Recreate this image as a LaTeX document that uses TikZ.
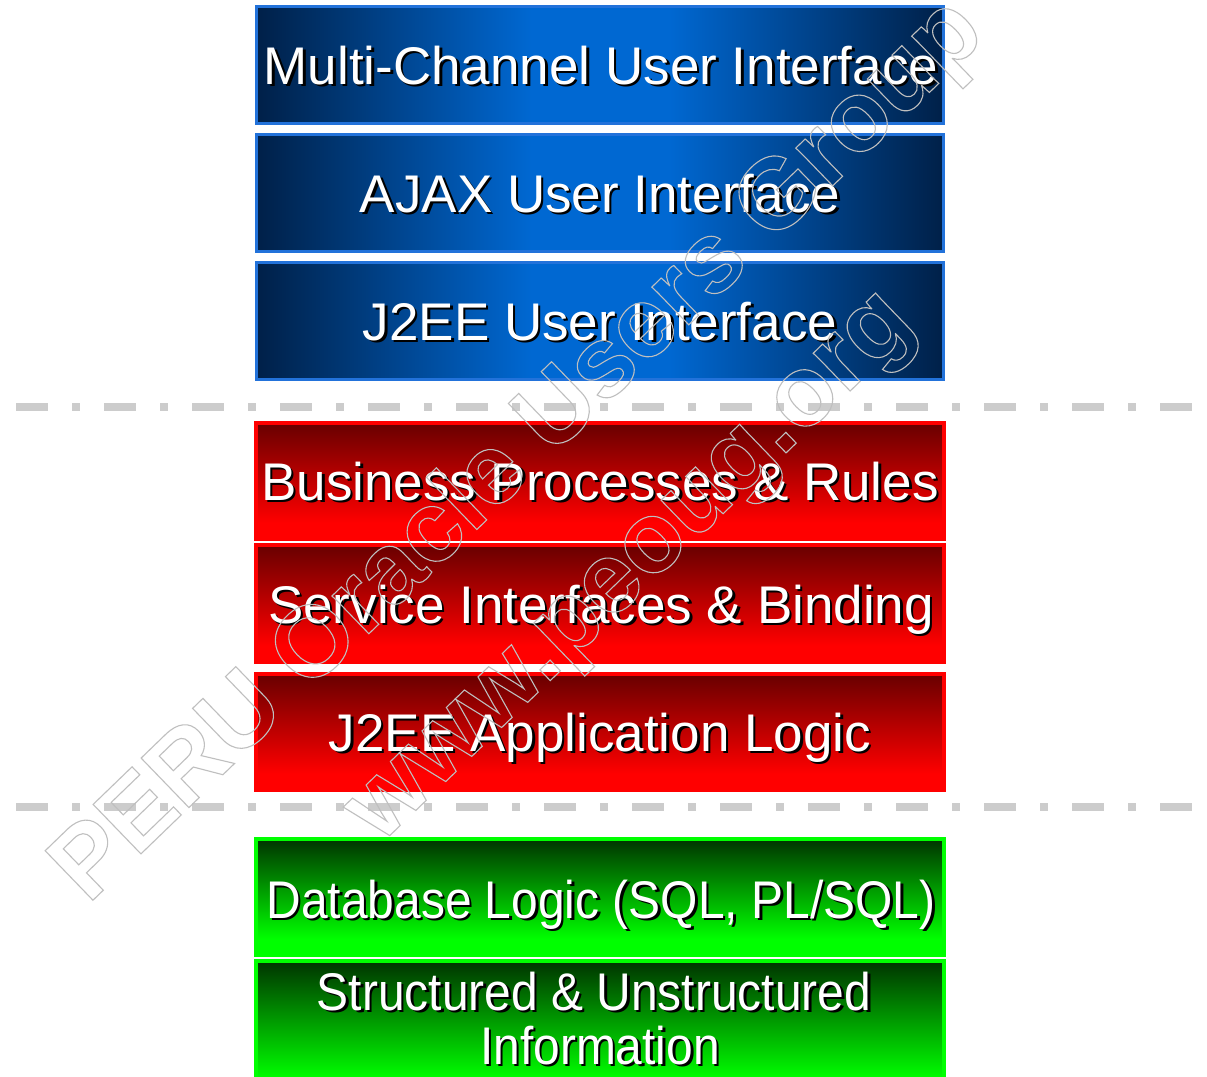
\documentclass[tikz,border=0pt]{standalone}
\usepackage{fontspec}
\setmainfont{Liberation Sans}
\usepackage{graphicx}
\usetikzlibrary{calc}
\definecolor{bborder}{RGB}{34,114,218}
\definecolor{bdark}{RGB}{0,32,72}
\definecolor{bbright}{RGB}{0,104,210}
\definecolor{rborder}{RGB}{255,0,0}
\definecolor{rtop}{RGB}{104,0,0}
\definecolor{rbot}{RGB}{255,0,0}
\definecolor{gborder}{RGB}{0,255,0}
\definecolor{gtop}{RGB}{0,52,0}
\definecolor{gbot}{RGB}{0,255,0}
\definecolor{sepgray}{RGB}{204,204,204}
\pgfdeclarehorizontalshading{bluesh}{100bp}{color(0bp)=(bdark); color(25bp)=(bdark); color(45bp)=(bbright); color(55bp)=(bbright); color(75bp)=(bdark); color(100bp)=(bdark)}
\pgfdeclareverticalshading{redsh}{100bp}{color(0bp)=(rbot); color(25bp)=(rbot); color(32bp)=(rbot); color(75bp)=(rtop); color(100bp)=(rtop)}
\pgfdeclareverticalshading{greensh}{100bp}{color(0bp)=(gbot); color(25bp)=(gbot); color(32bp)=(gbot); color(75bp)=(gtop); color(100bp)=(gtop)}
\tikzset{
  layerbox/.style={rectangle, inner sep=0pt, outer sep=0pt},
  bluebox/.style={layerbox, draw=bborder, line width=3pt, shading=bluesh, minimum width=687pt, minimum height=117pt},
  redbox/.style={layerbox, draw=rborder, line width=4pt, shading=redsh, minimum width=688pt},
  greenbox/.style={layerbox, draw=gborder, line width=4pt, shading=greensh, minimum width=688pt},
  lbl/.style={inner sep=0pt, anchor=base, text=white, font=\fontsize{53}{60}\selectfont},
  lblshadow/.style={lbl, text=black},
  sepline/.style={draw=sepgray, line width=8pt, dash pattern=on 32pt off 24pt on 8pt off 24pt},
  wm/.style={inner sep=0pt, anchor=base west, rotate=44, font=\fontsize{100}{110}\selectfont\bfseries}
}
\newcommand\lbl[4]{%
  \node[lblshadow] at (#2+2.5,#3+2.5) {#4};
  \node[lbl] (#1) at (#2,#3) {#4};}
\newcommand\outlinetext[1]{\special{pdf:literal direct 1 Tr 1.1 w 0.75 0.75 0.75 RG}#1\special{pdf:literal direct 0 Tr}}
\begin{document}
\begin{tikzpicture}[x=1pt,y=-1pt]
\useasboundingbox (0,0) rectangle (1207,1076);
\begin{scope}
\clip (0,0) rectangle (1207,1076);
\fill[white] (0,0) rectangle (1207,1076);
% blue layer
\node[bluebox] (b1) at (600,65) {};
\node[bluebox] (b2) at (600,193) {};
\node[bluebox] (b3) at (600,321) {};
\lbl{t1}{601}{84}{Multi-Channel User Interface}
\lbl{t2}{600}{212}{AJAX User Interface}
\lbl{t3}{600}{340}{J2EE User Interface}
% separator 1
\coordinate (s1a) at (16,407);
\coordinate (s1b) at (1192,407);
\draw[sepline] (s1a) -- (s1b);
% red layer
\node[redbox, minimum height=116pt] (r1) at (600,481) {};
\node[redbox, minimum height=117pt] (r2) at (600,603.5) {};
\node[redbox, minimum height=116pt] (r3) at (600,732) {};
\lbl{t4}{600}{500}{Business Processes \& Rules}
\lbl{t5}{601}{623}{Service Interfaces \& Binding}
\lbl{t6}{600}{751}{J2EE Application Logic}
% separator 2
\coordinate (s2a) at (16,807);
\coordinate (s2b) at (1192,807);
\draw[sepline] (s2a) -- (s2b);
% green layer
\node[greenbox, minimum height=116pt] (g1) at (600,897) {};
\node[greenbox, minimum height=137pt] (g2) at (600,1029.5) {};
\lbl{t7}{601}{918}{\scalebox{0.905}[1]{Database Logic (SQL, PL/SQL)}}
\lbl{t8}{594}{1010}{\scalebox{0.905}[1]{Structured \& Unstructured}}
\lbl{t9}{600}{1064}{\scalebox{0.905}[1]{Information}}
% watermark
\node[wm] (w1) at (88,905) {\outlinetext{PERU Oracle Users Group}};
\node[wm] (w2) at (380,845) {\outlinetext{www.peoug.org}};
\end{scope}
\end{tikzpicture}
\end{document}
